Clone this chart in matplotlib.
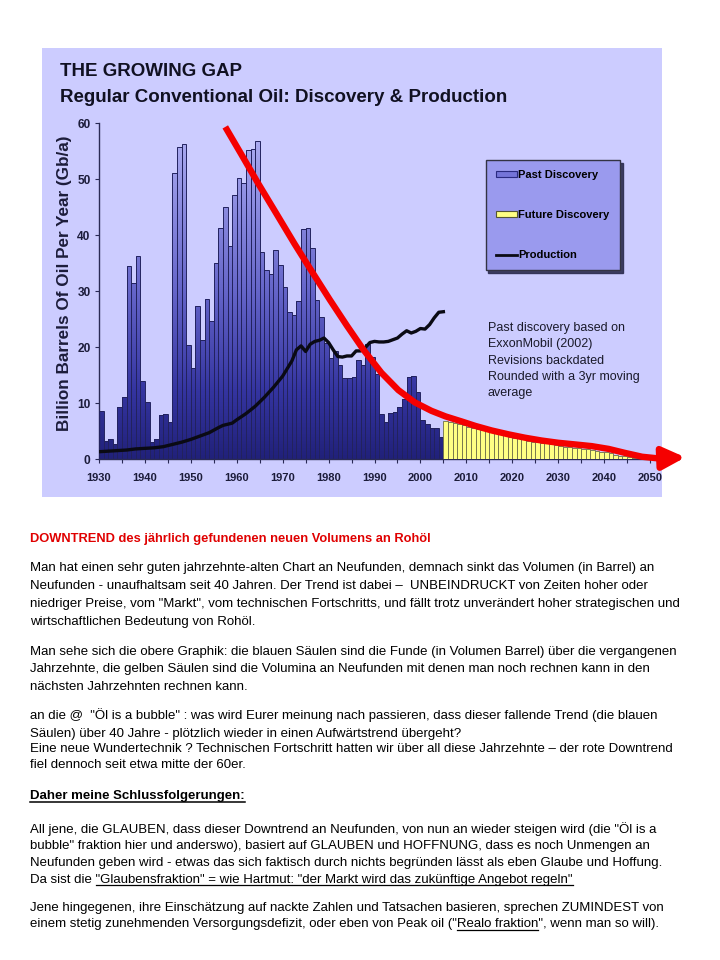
import numpy as np
import matplotlib
matplotlib.use('Agg')
import matplotlib.pyplot as plt
from matplotlib.path import Path
from matplotlib.patches import Rectangle, Patch
from matplotlib.lines import Line2D
from matplotlib.colors import LinearSegmentedColormap

plt.rcParams['font.family'] = ['Liberation Sans', 'DejaVu Sans']

# ---------------- data ----------------
past_years = list(range(1930, 2005))
past_discovery = [8.5, 3.3, 3.5, 2.7, 9.3, 11.0, 34.5, 31.5, 36.3, 14.0,
                  10.2, 3.0, 3.5, 7.8, 8.0, 6.6, 51.0, 55.7, 56.2, 20.3,
                  16.2, 27.4, 21.3, 28.6, 24.7, 35.0, 41.3, 45.0, 38.0, 47.2,
                  50.2, 49.2, 55.2, 55.3, 56.7, 37.0, 33.8, 33.0, 37.3, 34.6,
                  30.8, 26.2, 25.7, 28.3, 41.1, 41.2, 37.6, 28.4, 25.3, 20.8,
                  18.0, 19.2, 16.8, 14.5, 14.4, 14.6, 17.6, 16.7, 20.6, 18.2,
                  15.2, 8.1, 6.6, 8.2, 8.4, 9.3, 10.7, 14.7, 14.9, 11.9,
                  7.0, 6.3, 5.6, 5.6, 4.0]

future_years = list(range(2005, 2047))
future_discovery = [6.8, 6.6, 6.4, 6.2, 6.0, 5.8, 5.6, 5.4, 5.2, 5.0,
                    4.8, 4.6, 4.4, 4.2, 4.0, 3.8, 3.7, 3.5, 3.3, 3.1,
                    3.0, 2.9, 2.8, 2.6, 2.5, 2.4, 2.2, 2.1, 2.0, 1.9,
                    1.8, 1.7, 1.6, 1.5, 1.3, 1.2, 1.0, 0.8, 0.6, 0.5,
                    0.3, 0.2]

prod_years = [1930, 1932, 1934, 1936, 1938, 1940, 1942, 1944, 1946, 1948,
              1950, 1952, 1954, 1956, 1957, 1958, 1959, 1960, 1962, 1964,
              1966, 1968, 1970, 1972, 1973, 1974, 1975, 1976, 1977, 1978,
              1979, 1980, 1981, 1982, 1983, 1984, 1985, 1986, 1987, 1988,
              1989, 1990, 1991, 1992, 1993, 1994, 1995, 1996, 1997, 1998,
              1999, 2000, 2001, 2002, 2003, 2004, 2005]
production = [1.3, 1.4, 1.5, 1.6, 1.8, 1.9, 2.0, 2.2, 2.6, 3.0,
              3.5, 4.1, 4.7, 5.6, 6.0, 6.2, 6.4, 7.0, 8.1, 9.4,
              11.0, 12.8, 14.8, 17.5, 19.5, 20.2, 19.2, 20.5, 21.0, 21.2,
              21.6, 20.8, 19.5, 18.3, 18.2, 18.4, 18.4, 19.3, 19.3, 19.9,
              20.8, 21.0, 20.9, 20.9, 21.0, 21.3, 21.6, 22.3, 22.9, 22.5,
              22.8, 23.3, 23.2, 24.0, 25.2, 26.2, 26.3]

trend_years = [1957.5, 1961.0, 1964.6, 1968.5, 1972.6, 1976.5, 1980.3, 1984.0,
               1987.6, 1991.5, 1995.2, 1998.8, 2002.4, 2005.5, 2009.0, 2012.0,
               2015.5, 2019.2, 2022.8, 2026.4, 2030.0, 2033.7, 2037.3, 2041.0,
               2044.5, 2048.3, 2051.9, 2057.7]
trend_values = [59.3, 54.4, 49.3, 44.0, 38.4, 33.3, 28.4, 23.8,
                19.5, 15.4, 12.3, 10.1, 8.6, 7.6, 6.7, 5.9,
                5.1, 4.4, 3.8, 3.3, 2.9, 2.6, 2.3, 1.8,
                1.1, 0.4, 0.1, 0.3]

x_ticks = list(range(1930, 2051, 10))
x_minor = list(range(1935, 2050, 10))
y_ticks = list(range(0, 61, 10))

title1 = "THE GROWING GAP"
title2 = "Regular Conventional Oil: Discovery & Production"
y_label = "Billion Barrels Of Oil Per Year (Gb/a)"
legend_labels = ["Past Discovery", "Future Discovery", "Production"]
note_lines = ["Past discovery based on", "ExxonMobil (2002)", "Revisions backdated",
              "Rounded with a 3yr moving", "average"]

body_lines = [
    "DOWNTREND des jährlich gefundenen neuen Volumens an Rohöl",
    "Man hat einen sehr guten jahrzehnte-alten Chart an Neufunden, demnach sinkt das Volumen (in Barrel) an",
    "Neufunden - unaufhaltsam seit 40 Jahren. Der Trend ist dabei –  UNBEINDRUCKT von Zeiten hoher oder",
    "niedriger Preise, vom \"Markt\", vom technischen Fortschritts, und fällt trotz unverändert hoher strategischen und",
    "wirtschaftlichen Bedeutung von Rohöl.",
    "Man sehe sich die obere Graphik: die blauen Säulen sind die Funde (in Volumen Barrel) über die vergangenen",
    "Jahrzehnte, die gelben Säulen sind die Volumina an Neufunden mit denen man noch rechnen kann in den",
    "nächsten Jahrzehnten rechnen kann.",
    "an die @  \"Öl is a bubble\" : was wird Eurer meinung nach passieren, dass dieser fallende Trend (die blauen",
    "Säulen) über 40 Jahre - plötzlich wieder in einen Aufwärtstrend übergeht?",
    "Eine neue Wundertechnik ? Technischen Fortschritt hatten wir über all diese Jahrzehnte – der rote Downtrend",
    "fiel dennoch seit etwa mitte der 60er.",
    "Daher meine Schlussfolgerungen:",
    "All jene, die GLAUBEN, dass dieser Downtrend an Neufunden, von nun an wieder steigen wird (die \"Öl is a",
    "bubble\" fraktion hier und anderswo), basiert auf GLAUBEN und HOFFNUNG, dass es noch Unmengen an",
    "Neufunden geben wird - etwas das sich faktisch durch nichts begründen lässt als eben Glaube und Hoffung.",
    "Da sist die \"Glaubensfraktion\" = wie Hartmut: \"der Markt wird das zukünftige Angebot regeln\"",
    "Jene hingegenen, ihre Einschätzung auf nackte Zahlen und Tatsachen basieren, sprechen ZUMINDEST von",
    "einem stetig zunehmenden Versorgungsdefizit, oder eben von Peak oil (\"Realo fraktion\", wenn man so will).",
]
# baseline y (pixels from top) of each body line
body_baselines = [542, 571.5, 589, 607, 624.5, 654.5, 672, 689.5, 719.5, 736.5,
                  752, 767.5, 799.5, 832.5, 849.5, 866, 882.5, 910.5, 927.5]
# underlined segments: (line index, prefix, underlined text)
underlines = [(12, "", "Daher meine Schlussfolgerungen:"),
              (16, "Da sist die ", "\"Glaubensfraktion\" = wie Hartmut: \"der Markt wird das zukünftige Angebot regeln\""),
              (18, "einem stetig zunehmenden Versorgungsdefizit, oder eben von Peak oil (\"", "Realo fraktion")]

# ---------------- figure ----------------
W, H = 720, 960
fig = plt.figure(figsize=(W / 100, H / 100), dpi=100, facecolor='white')

def fx(px):
    return px / W

def fy(py):
    return 1 - py / H

# chart panel background
fig.patches.append(Rectangle((fx(42), fy(497)), fx(662) - fx(42), fy(48) - fy(497),
                             transform=fig.transFigure, facecolor='#ccccff',
                             edgecolor='none', zorder=-10))

ax = fig.add_axes([fx(99), fy(459), fx(650) - fx(99), fy(123) - fy(459)])
ax.set_facecolor('none')

# past discovery bars with vertical gradient
bars = ax.bar(past_years, past_discovery, width=1.0, align='edge', facecolor='none',
              edgecolor='#22225e', linewidth=0.7, zorder=3)
paths = [b.get_path().transformed(b.get_patch_transform()) for b in bars]
clip = Path.make_compound_path(*paths)
cmap = LinearSegmentedColormap.from_list('disc', [(0.0, '#21217a'), (0.2, '#3434a0'),
                                                  (0.5, '#6565c9'), (1.0, '#b2b2f6')])
grad = np.linspace(0, 1, 256).reshape(-1, 1)
im = ax.imshow(grad, extent=(past_years[0], past_years[-1] + 1, 0, 60), origin='lower',
               aspect='auto', cmap=cmap, zorder=2, interpolation='bilinear')
im.set_clip_path(clip, ax.transData)

# future discovery bars
ax.bar(future_years, future_discovery, width=1.0, align='edge', facecolor='#ffff84',
       edgecolor='#6e6e48', linewidth=0.6, zorder=3)

# production
ax.plot(prod_years, production, color='#0a0a14', lw=2.4, zorder=5, solid_joinstyle='round')

# red downtrend
ax.plot(trend_years[:-1], trend_values[:-1], color='#f50000', lw=4.6, zorder=6,
        solid_capstyle='butt', solid_joinstyle='round', clip_on=False)
ax.annotate('', xy=(trend_years[-1], trend_values[-1]),
            xytext=(trend_years[-2], trend_values[-2]),
            arrowprops=dict(arrowstyle='-|>,head_length=0.85,head_width=0.42',
                            color='#f50000', lw=4.6, mutation_scale=16,
                            shrinkA=0, shrinkB=0),
            annotation_clip=False, zorder=6)

ax.set_xlim(1930, 2050)
ax.set_ylim(0, 60)
for s in ['top', 'right']:
    ax.spines[s].set_visible(False)
for s in ['left', 'bottom']:
    ax.spines[s].set_color('#2a2a55')
    ax.spines[s].set_linewidth(1.0)
ax.set_xticks(x_ticks)
ax.set_xticks(x_minor, minor=True)
ax.set_yticks(y_ticks)
ax.tick_params(axis='x', which='both', direction='out', length=3, width=0.8,
               color='#2a2a55', pad=7)
ax.tick_params(axis='y', direction='out', length=3, width=0.8, color='#2a2a55', pad=3)
for lab in ax.get_xticklabels():
    lab.set_fontweight('bold')
    lab.set_fontsize(8)
    lab.set_color('#1c1c3a')
for lab in ax.get_yticklabels():
    lab.set_fontweight('bold')
    lab.set_fontsize(8.6)
    lab.set_color('#1c1c3a')

# titles and axis label
fig.text(fx(60), fy(76.5), title1, fontsize=13.5, fontweight='bold', color='#111122',
         va='baseline', ha='left')
fig.text(fx(60), fy(101.5), title2, fontsize=13.5, fontweight='bold', color='#111122',
         va='baseline', ha='left')
fig.text(fx(65), fy(283), y_label, rotation=90, fontsize=12.3, fontweight='bold',
         color='#1c1c3a', ha='center', va='center')

# legend
handles = [Patch(facecolor='#7474d8', edgecolor='#2a2a80', linewidth=0.8),
           Patch(facecolor='#ffff84', edgecolor='#555533', linewidth=0.8),
           Line2D([0], [0], color='#0a0a14', lw=2.0)]
leg = ax.legend(handles, legend_labels, loc='upper left',
                bbox_to_anchor=(fx(485.7), fy(160)), bbox_transform=fig.transFigure,
                borderaxespad=0, borderpad=0.9, labelspacing=2.7, handlelength=1.9,
                handleheight=0.45, handletextpad=0.15, fancybox=False, framealpha=1,
                facecolor='#9a9aee', edgecolor='#333344',
                shadow={'color': '#2c2c50', 'alpha': 0.9},
                prop={'weight': 'bold', 'size': 8})
leg.get_frame().set_linewidth(1.0)
leg.set_zorder(7)

# note
note_baselines = [331, 347.3, 363.6, 380, 396]
for line, yb in zip(note_lines, note_baselines):
    fig.text(fx(488), fy(yb), line, fontsize=9, color='#1a1a2a', va='baseline', ha='left')

# ---------------- body text ----------------
renderer = fig.canvas.get_renderer()
probe = fig.text(0, 0, body_lines[1], fontsize=9)
w = probe.get_window_extent(renderer).width
probe.remove()
body_size = 9 * 629.0 / w

texts = []
for i, (line, yb) in enumerate(zip(body_lines, body_baselines)):
    kw = dict(fontsize=body_size, va='baseline', ha='left', color='black')
    if i == 0:
        kw.update(color='#e00000', fontweight='bold', fontsize=body_size * 0.97)
    if i == 12:
        kw.update(fontweight='bold')
    texts.append(fig.text(fx(30), fy(yb), line, **kw))

def text_width(s, weight):
    if not s:
        return 0.0
    t = fig.text(0, 0, s, fontsize=body_size, fontweight=weight)
    wd = t.get_window_extent(renderer).width
    t.remove()
    return wd

for idx, prefix, seg in underlines:
    weight = 'bold' if idx == 12 else 'normal'
    x0 = 30 + text_width(prefix, weight)
    x1 = 30 + text_width(prefix + seg, weight)
    yb = body_baselines[idx] + 2
    fig.add_artist(Line2D([fx(x0), fx(x1)], [fy(yb), fy(yb)], transform=fig.transFigure,
                          color='black', lw=0.9 if idx != 12 else 1.1))

fig.savefig('out.png', dpi=100, facecolor='white')
